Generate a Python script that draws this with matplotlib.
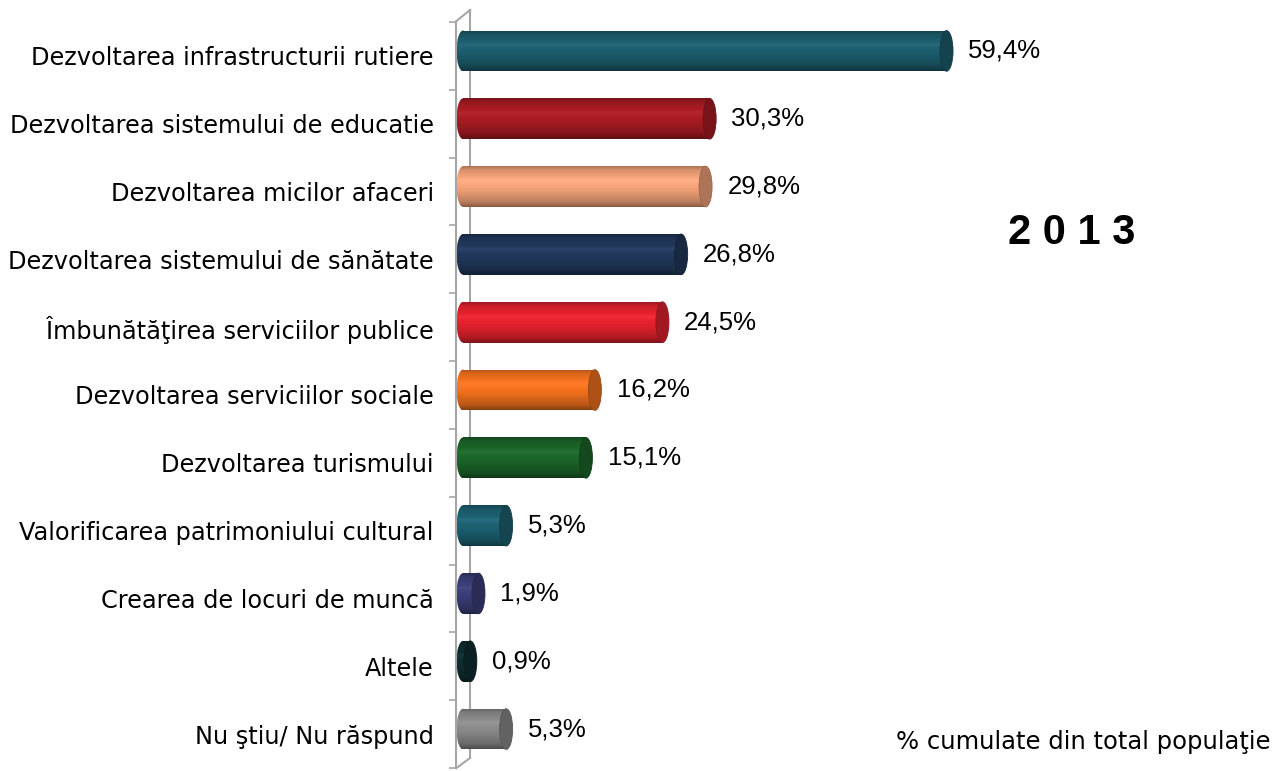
import numpy as np
import matplotlib
matplotlib.use("Agg")
import matplotlib.pyplot as plt
from matplotlib.patches import Ellipse
from matplotlib.lines import Line2D
from matplotlib.transforms import ScaledTranslation
from matplotlib.colors import to_rgb

# Date
categorii = [
    "Dezvoltarea infrastructurii rutiere",
    "Dezvoltarea sistemului de educatie",
    "Dezvoltarea micilor afaceri",
    "Dezvoltarea sistemului de sănătate",
    "Îmbunătăţirea serviciilor publice",
    "Dezvoltarea serviciilor sociale",
    "Dezvoltarea turismului",
    "Valorificarea patrimoniului cultural",
    "Crearea de locuri de muncă",
    "Altele",
    "Nu ştiu/ Nu răspund",
]
valori = [59.4, 30.3, 29.8, 26.8, 24.5, 16.2, 15.1, 5.3, 1.9, 0.9, 5.3]
etichete = ["59,4%", "30,3%", "29,8%", "26,8%", "24,5%", "16,2%", "15,1%",
            "5,3%", "1,9%", "0,9%", "5,3%"]
culori = ["#1d5f6f", "#ac1c24", "#f8a67c", "#22395d", "#e8222f", "#f7731f",
          "#1c672a", "#1d6373", "#3c3f7a", "#0f2e31", "#8c8c8c"]

W, H = 1276, 771
fig = plt.figure(figsize=(W / 100, H / 100), dpi=100)

# axa: x=0 la pixelul 463, 8.14 px pe unitate
x0_px, scala = 463, 8.14
top_px, bot_px = 22, 768
ax = fig.add_axes([x0_px / W, 1 - bot_px / H, 99 * scala / W, (bot_px - top_px) / H])
ax.patch.set_visible(False)

for s in ["top", "right", "bottom"]:
    ax.spines[s].set_visible(False)
ax.spines["left"].set_position(("outward", 5))
ax.spines["left"].set_color("#a6a6a6")
ax.spines["left"].set_linewidth(1.5)
ax.set_xticks([])

y = np.arange(len(categorii))
ax.set_yticks(np.arange(len(categorii) + 1) - 0.5)
ax.set_yticklabels([])
ax.set_yticks(y, minor=True)
ax.set_yticklabels(categorii, minor=True, fontsize=17.3, family="DejaVu Sans")
ax.tick_params(axis="y", which="major", length=5, width=1.2, color="#a6a6a6", direction="out")
ax.tick_params(axis="y", which="minor", length=0, pad=16)

# bare cilindrice
sus = ScaledTranslation(0, 5 / 100, fig.dpi_scale_trans)
tr = ax.transData + sus
w_el = 1.6
inaltime = 0.6
t = np.linspace(0, 1, 64)
umbra = np.interp(t, [0, 0.1, 0.35, 0.6, 0.88, 1], [0.7, 0.88, 1.04, 0.95, 0.75, 0.55])

bars = ax.barh(y, valori, height=inaltime, color="none", transform=tr)
for b, c in zip(bars, culori):
    rgb = np.array(to_rgb(c))
    f = umbra[:, None]
    grad = np.where(f > 1, rgb + (f - 1) * 1.0, f * rgb)
    grad = np.clip(grad, 0, 1)[:, None, :]
    x, yb, bw, bh = b.get_x(), b.get_y(), b.get_width(), b.get_height()
    # capat stang rotunjit
    el_st = Ellipse((x, yb + bh / 2), w_el, bh, transform=tr, facecolor="none", edgecolor="none")
    ax.add_patch(el_st)
    im = ax.imshow(grad, extent=(x - w_el / 2, x + bw, yb + bh, yb), aspect="auto",
                   interpolation="bilinear", transform=tr, zorder=2)
    im.set_clip_path(el_st)
    im.set_clip_box(fig.bbox)
    im2 = ax.imshow(grad, extent=(x, x + bw, yb + bh, yb), aspect="auto",
                    interpolation="bilinear", transform=tr, zorder=2)
    im2.set_clip_path(b)
    # fata de capat
    ax.add_patch(Ellipse((x + bw, yb + bh / 2), w_el, bh, transform=tr,
                         facecolor=rgb * 0.7, edgecolor=rgb * 0.62, linewidth=0.6, zorder=3))

ax.set_xlim(0, 99)
ax.set_ylim(len(categorii) - 0.5, -0.5)

for v, e, yy in zip(valori, etichete, y):
    ax.annotate(e, (v + w_el / 2, yy), xytext=(11, 3.6), textcoords="offset points",
                va="center", ha="left", fontsize=18.5, family="Liberation Sans")

# peretele din spate
px = lambda xx, yy: (xx / W, 1 - yy / H)
gri = "#a6a6a6"
fig.add_artist(Line2D(*zip(px(470, 10), px(470, 758)), color=gri, lw=1.5, zorder=-1,
                      transform=fig.transFigure))
fig.add_artist(Line2D(*zip(px(456.5, 21), px(470, 10)), color=gri, lw=1.5,
                      transform=fig.transFigure))
fig.add_artist(Line2D(*zip(px(456.5, 768), px(470, 758)), color=gri, lw=1.5,
                      transform=fig.transFigure))

fig.text(1072 / W, 1 - 233 / H, "2 0 1 3", fontsize=30, fontweight="bold",
         family="Liberation Sans", ha="center", va="center")
fig.text(1270 / W, 1 - 742 / H, "% cumulate din total populaţie", fontsize=17.5,
         family="DejaVu Sans", ha="right", va="center")

fig.savefig("out.png", dpi=100)
